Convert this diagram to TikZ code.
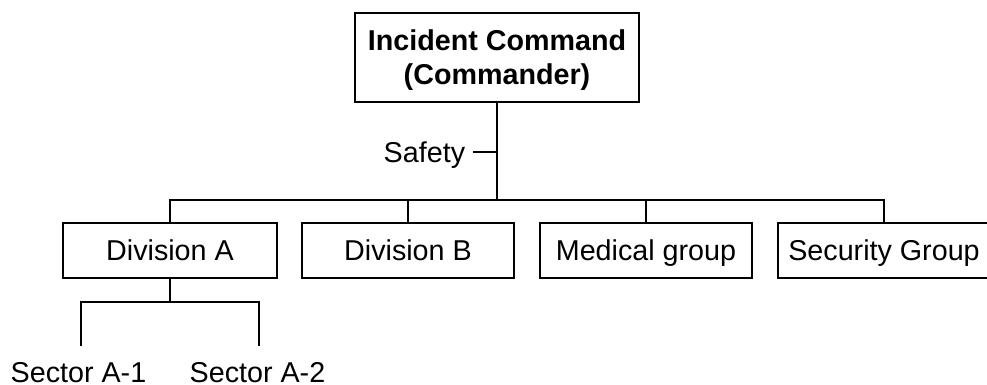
\documentclass[tikz,border=0pt]{standalone}
\usepackage{fontspec}
\setmainfont{Liberation Sans}
\begin{document}
\begin{tikzpicture}[x=1pt,y=1pt,line width=1.8pt,
  txt/.style={font=\fontsize{28.7}{34}\selectfont},
  box/.style={draw,line width=1.8pt,inner sep=0pt,minimum height=55pt,text height=20.5pt,text depth=0pt,txt},
  lab/.style={inner sep=0pt,txt}]
\useasboundingbox (0,0) rectangle (987,-384);
% top box
\node[box,minimum width=284pt,minimum height=89pt] (cmd) at (497,-57.5) {};
\node[lab,anchor=base,font=\fontsize{28.7}{34}\selectfont\bfseries] (t1) at (497,-50) {Incident Command};
\node[lab,anchor=base,font=\fontsize{28.7}{34}\selectfont\bfseries] (t2) at (497,-84) {(Commander)};
% second row
\node[box,minimum width=214pt] (divA) at (170,-250.5) {Division A};
\node[box,minimum width=212pt] (divB) at (408,-250.5) {Division B};
\node[box,minimum width=212pt] (med) at (646,-250.5) {Medical group};
\node[box,minimum width=212pt] (sec) at (884,-250.5) {Security Group};
% safety
\node[lab,anchor=base east] (safety) at (466,-162) {Safety};
\coordinate (st) at (497,-152);
\coordinate (sl) at (473,-152);
\draw (sl) -- (st);
% bus
\coordinate (bus) at (497,-200);
\draw (cmd.south) -- (bus);
\draw (divA.north) |- (bus) -| (sec.north);
\draw (divB.north) -- (divB.north |- bus);
\draw (med.north) -- (med.north |- bus);
% sectors
\coordinate (sb) at (170,-302);
\coordinate (c1) at (81,-346);
\coordinate (c2) at (259,-346);
\draw (divA.south) -- (sb);
\draw (c1) |- (sb) -| (c2);
\node[lab,anchor=base] (s1) at (78.5,-382) {Sector A-1};
\node[lab,anchor=base] (s2) at (257.5,-382) {Sector A-2};
\end{tikzpicture}
\end{document}
